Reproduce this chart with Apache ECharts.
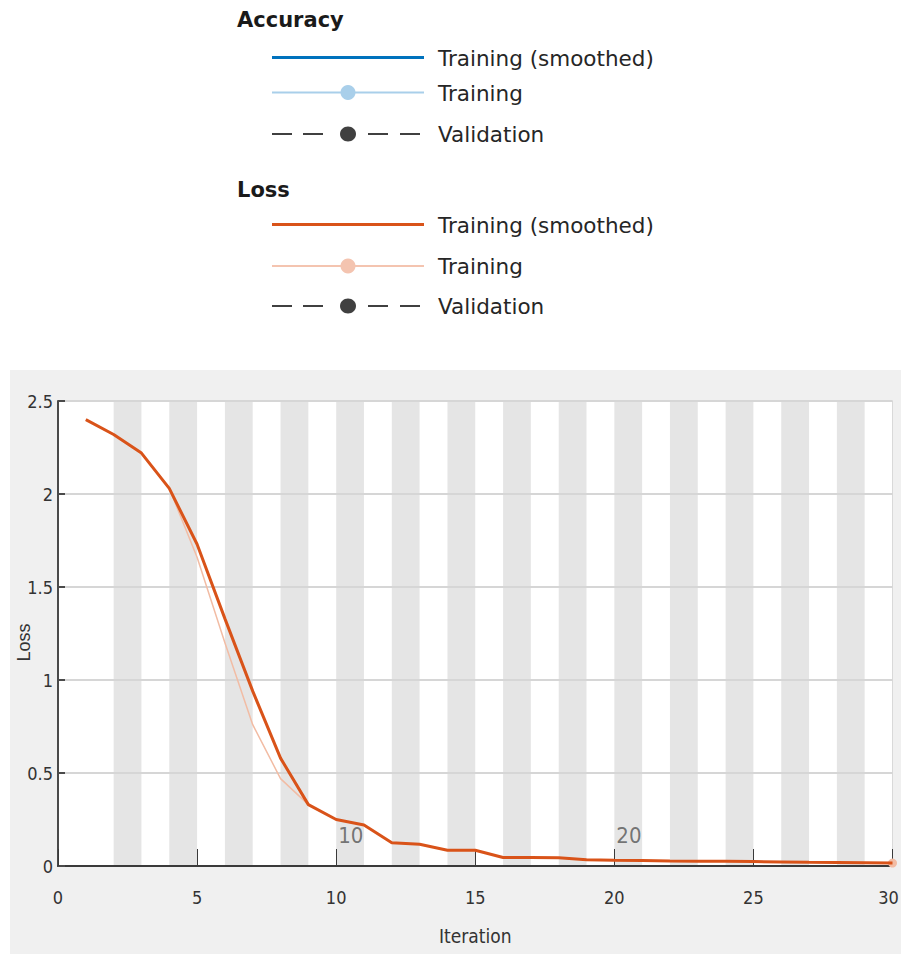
<!DOCTYPE html>
<html>
<head>
<meta charset="utf-8">
<title>Training Progress</title>
<script src="https://cdn.jsdelivr.net/npm/echarts@6/dist/echarts.min.js"></script>
<style>
  html, body { margin: 0; padding: 0; background: #ffffff; }
  #wrap { position: relative; width: 901px; height: 954px; overflow: hidden; }
  #panel { position: absolute; left: 10px; top: 370px; width: 891px; height: 584px; background: #f0f0f0; }
  #chart { position: absolute; left: 0; top: 0; width: 901px; height: 954px; }
</style>
</head>
<body>
<div id="wrap">
  <div id="panel"></div>
  <div id="chart"></div>
</div>
<script>
// Iterations 1..30 and loss values per iteration
const iterations = [1, 2, 3, 4, 5, 6, 7, 8, 9, 10, 11, 12, 13, 14, 15,
                    16, 17, 18, 19, 20, 21, 22, 23, 24, 25, 26, 27, 28, 29, 30];
const lossSmoothed = [2.40, 2.32, 2.22, 2.03, 1.73, 1.33, 0.94, 0.58, 0.33, 0.25,
                      0.22, 0.125, 0.117, 0.085, 0.085, 0.046, 0.046, 0.044, 0.034, 0.031,
                      0.029, 0.027, 0.026, 0.025, 0.024, 0.022, 0.020, 0.019, 0.018, 0.016];
const lossTraining = [2.40, 2.32, 2.22, 2.03, 1.66, 1.20, 0.76, 0.47, 0.33, 0.25,
                      0.22, 0.125, 0.117, 0.085, 0.085, 0.046, 0.046, 0.044, 0.034, 0.031,
                      0.029, 0.027, 0.026, 0.025, 0.024, 0.022, 0.020, 0.019, 0.018, 0.016];
// Epoch boundaries: shaded epochs and labelled epochs
const shadedEpochs = [2, 4, 6, 8, 10, 12, 14, 16, 18, 20, 22, 24, 26, 28];
const labelledEpochs = [10, 20];
// Axis ticks
const xTicks = { min: 0, max: 30, step: 5 };
const yTicks = { min: 0, max: 2.5, step: 0.5 };

// Legend content
const legendSections = [
  { title: 'Accuracy', entries: [
    { name: 'Training (smoothed)', kind: 'solid', color: '#0072bd', width: 3 },
    { name: 'Training', kind: 'marker', color: '#a9cfea', width: 2 },
    { name: 'Validation', kind: 'dashed', color: '#404040', width: 2 }
  ]},
  { title: 'Loss', entries: [
    { name: 'Training (smoothed)', kind: 'solid', color: '#d95319', width: 3 },
    { name: 'Training', kind: 'marker', color: '#f4c4b0', width: 2 },
    { name: 'Validation', kind: 'dashed', color: '#404040', width: 2 }
  ]}
];

const COLOR_SMOOTH = '#d95319';
const COLOR_RAW = '#f2bca4';
const NARROW = "'Liberation Sans Narrow', 'DejaVu Sans Condensed', 'Liberation Sans', sans-serif";
const LEGEND_FONT = '"DejaVu Sans", sans-serif';
const TICK_FONT_SIZE = 18;

// Legend built with graphic elements
function buildLegend() {
  const els = [];
  const titleY = [20, 190];
  const rowY = [[57.5, 92.5, 134], [224.5, 266, 306]];
  const lineX0 = 272, lineX1 = 424, midX = 348, textX = 438;
  legendSections.forEach((sec, si) => {
    els.push({
      type: 'text',
      style: { text: sec.title, x: 237, y: titleY[si], fill: '#1a1a1a',
               font: 'bold 21px ' + LEGEND_FONT, verticalAlign: 'middle', align: 'left' }
    });
    sec.entries.forEach((en, ei) => {
      const y = rowY[si][ei];
      if (en.kind === 'dashed') {
        const segs = [[272, 292], [303, 323], [368, 388], [400, 420]];
        segs.forEach(s => els.push({
          type: 'line', shape: { x1: s[0], y1: y, x2: s[1], y2: y },
          style: { stroke: en.color, lineWidth: en.width }
        }));
        els.push({ type: 'ellipse', shape: { cx: midX, cy: y, rx: 8, ry: 7.5 },
                   style: { fill: en.color } });
      } else {
        els.push({
          type: 'line', shape: { x1: lineX0, y1: y, x2: lineX1, y2: y },
          style: { stroke: en.color, lineWidth: en.width }
        });
        if (en.kind === 'marker') {
          els.push({ type: 'circle', shape: { cx: midX, cy: y, r: 7.5 },
                     style: { fill: en.color } });
        }
      }
      els.push({
        type: 'text',
        style: { text: en.name, x: textX, y: y + 0.5, fill: '#262626',
                 font: '21.5px ' + LEGEND_FONT, verticalAlign: 'middle', align: 'left' }
      });
    });
  });
  return els;
}

const pairs = (ys) => iterations.map((it, i) => [it, ys[i]]);
const rawData = pairs(lossTraining).map((p, i, arr) =>
  i === arr.length - 1
    ? { value: p, symbol: 'circle', symbolSize: 9, itemStyle: { color: COLOR_RAW } }
    : { value: p, symbol: 'none' });

const chart = echarts.init(document.getElementById('chart'), null, { renderer: 'svg' });
chart.setOption({
  animation: false,
  backgroundColor: 'transparent',
  graphic: buildLegend(),
  grid: {
    left: 58, right: 8.5, top: 401, bottom: 88,
    containLabel: false, outerBoundsMode: 'none',
    show: true, backgroundColor: '#ffffff', borderColor: '#d9d9d9', borderWidth: 1
  },
  xAxis: {
    type: 'value', min: xTicks.min, max: xTicks.max, interval: xTicks.step, z: 3,
    name: 'Iteration', nameLocation: 'middle', nameGap: 60, nameMoveOverlap: false,
    nameTextStyle: { fontFamily: NARROW, fontSize: 19, color: '#333333' },
    axisLine: { show: true, onZero: false, lineStyle: { color: '#3a3a3a', width: 2 } },
    axisTick: { show: true, inside: true, length: 17, lineStyle: { color: '#3a3a3a', width: 1 } },
    axisLabel: {
      margin: 22, fontFamily: NARROW, fontSize: TICK_FONT_SIZE, color: '#333333',
      // keep the last label inside the panel's right edge
      formatter: v => (v === xTicks.max ? '{edge|' + v + '}' : String(v)),
      rich: { edge: { fontFamily: NARROW, fontSize: TICK_FONT_SIZE, color: '#333333',
                      padding: [0, 8, 0, 0] } }
    },
    splitLine: { show: false }
  },
  yAxis: {
    type: 'value', min: yTicks.min, max: yTicks.max, interval: yTicks.step, z: 3,
    name: 'Loss', nameLocation: 'middle', nameGap: 25, nameRotate: 90, nameMoveOverlap: false,
    nameTextStyle: { fontFamily: '"Liberation Sans", Arial, sans-serif', fontSize: 18,
                     color: '#333333', padding: [0, 18, 0, 0] },
    axisLine: { show: true, lineStyle: { color: '#4a4a4a', width: 2 } },
    axisTick: { show: true, inside: true, length: 7, lineStyle: { color: '#4a4a4a', width: 2 } },
    axisLabel: { margin: 5, fontFamily: NARROW, fontSize: TICK_FONT_SIZE, color: '#333333' },
    splitLine: { show: true, lineStyle: { color: '#d6d6d6', width: 2 } }
  },
  series: [
    {
      name: 'Loss Training', type: 'line', z: 5, silent: true,
      data: rawData, showSymbol: true,
      lineStyle: { color: COLOR_RAW, width: 1.5 },
      itemStyle: { color: COLOR_RAW },
      markArea: {
        silent: true, z: 1,
        itemStyle: { color: 'rgba(0,0,0,0.1)' },
        data: shadedEpochs.map(e => [{ xAxis: e }, { xAxis: e + 1 }])
      }
    },
    {
      name: 'Loss Training (smoothed)', type: 'line', z: 6, silent: true,
      data: pairs(lossSmoothed), symbol: 'none',
      lineStyle: { color: COLOR_SMOOTH, width: 3 }
    },
    {
      name: 'Epoch', type: 'scatter', z: 4, silent: true,
      data: labelledEpochs.map(e => [e, 0]), symbolSize: 0,
      label: {
        show: true, position: [2, -42],
        formatter: p => String(p.value[0]),
        fontFamily: NARROW, fontSize: 22, color: '#555555'
      }
    }
  ]
});
</script>
</body>
</html>
